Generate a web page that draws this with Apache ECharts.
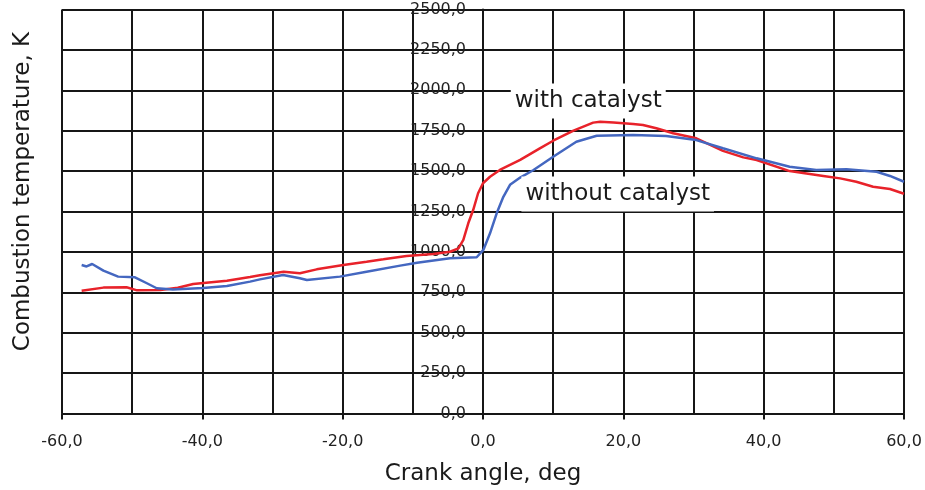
<!DOCTYPE html>
<html>
<head>
<meta charset="utf-8">
<title>Combustion temperature vs crank angle</title>
<script src="https://cdn.jsdelivr.net/npm/echarts@6/dist/echarts.min.js"></script>
<style>
  html, body { margin: 0; padding: 0; background: #fff; }
  #chart { width: 925px; height: 490px; }
</style>
</head>
<body>
<div id="chart"></div>
<script>
// Crank angle (deg) and combustion temperature (K), with catalyst
const withCatalystAngle = [-57.2, -54.1, -50.8, -49.3, -46.0, -43.5, -41.3, -36.5, -33.2, -31.8, -28.4, -26.1, -23.7, -19.9, -16.6, -14.2, -10.9, -7.1, -4.7, -3.5, -2.8, -2.1, -1.4, -0.7, 0.0, 1.0, 2.4, 5.3, 8.1, 10.0, 12.9, 15.7, 16.7, 18.6, 21.4, 22.8, 24.7, 27.1, 30.4, 34.2, 37.1, 39.0, 43.7, 48.5, 50.9, 53.2, 55.6, 58.0, 60.0];
const withCatalystTemp  = [760, 779, 781, 762, 764, 778, 801, 822, 845, 855, 877, 868, 892, 919, 939, 954, 975, 987, 1001, 1022, 1074, 1177, 1259, 1363, 1425, 1465, 1507, 1569, 1641, 1688, 1750, 1800, 1806, 1800, 1791, 1785, 1765, 1734, 1703, 1625, 1585, 1569, 1500, 1470, 1455, 1434, 1403, 1389, 1360];

// Crank angle (deg) and combustion temperature (K), without catalyst
const withoutCatalystAngle = [-57.2, -56.5, -55.7, -54.1, -52.0, -49.6, -47.9, -46.5, -44.2, -39.9, -36.5, -33.2, -31.8, -28.5, -26.1, -25.1, -20.4, -16.6, -11.8, -9.4, -4.7, -0.9, 0.05, 1.0, 1.95, 2.9, 3.85, 5.3, 7.2, 10.0, 13.3, 16.2, 21.4, 26.1, 30.4, 34.2, 39.0, 43.7, 47.5, 51.8, 56.1, 58.0, 60.0];
const withoutCatalystTemp  = [919, 910, 925, 884, 847, 843, 806, 775, 768, 776, 789, 816, 830, 857, 837, 826, 847, 877, 915, 933, 960, 967, 1012, 1115, 1239, 1341, 1415, 1460, 1507, 1589, 1682, 1719, 1723, 1717, 1692, 1641, 1579, 1527, 1507, 1511, 1496, 1470, 1434];

const seriesNames = ['with catalyst', 'without catalyst'];
const xTitle = 'Crank angle, deg';
const yTitle = 'Combustion temperature, K';

const zip = (xs, ys) => xs.map((x, i) => [x, ys[i]]);
const commaDecimal = v => v.toFixed(1).replace('.', ',');

const FONT = '"DejaVu Sans", Verdana, sans-serif';
const GRID_COLOR = '#161616';
const GRID_LEFT = 62;
const Y_AXIS_CROSS_ANGLE = 0; // temperature axis crosses the angle axis at 0 deg

function annotation(text, coord) {
  return {
    symbol: 'rect',
    symbolSize: 1,
    itemStyle: { color: 'rgba(0,0,0,0)' },
    data: [{ coord: coord, value: text }],
    label: {
      show: true,
      position: 'inside',
      formatter: text,
      color: '#1a1a1a',
      fontFamily: FONT,
      fontSize: 23,
      backgroundColor: '#ffffff',
      padding: [6, 4, 6, 4]
    }
  };
}

const chart = echarts.init(document.getElementById('chart'), null, { renderer: 'canvas' });

chart.setOption({
  animation: false,
  backgroundColor: '#ffffff',
  grid: {
    left: GRID_LEFT, right: 21, top: 9.5, bottom: 76.5,
    containLabel: false,
    outerBoundsMode: 'none'
  },
  xAxis: {
    type: 'value',
    min: -60,
    max: 60,
    interval: 20,
    name: xTitle,
    nameLocation: 'middle',
    nameGap: 49,
    nameTextStyle: { fontFamily: FONT, fontSize: 23, color: '#1a1a1a' },
    axisLine: { show: true, lineStyle: { color: GRID_COLOR, width: 2 } },
    axisTick: { show: true, length: 6, lineStyle: { color: GRID_COLOR, width: 2 } },
    axisLabel: {
      margin: 20,
      fontFamily: FONT,
      fontSize: 16,
      color: '#222',
      formatter: commaDecimal,
      showMinLabel: true,
      showMaxLabel: true
    },
    splitLine: { show: true, lineStyle: { color: GRID_COLOR, width: 2 } },
    minorTick: { show: false, splitNumber: 2 },
    minorSplitLine: { show: true, lineStyle: { color: GRID_COLOR, width: 2 } }
  },
  yAxis: [
    {
      type: 'value',
      min: 0,
      max: 2500,
      interval: 250,
      axisLine: { show: true, onZero: false, lineStyle: { color: GRID_COLOR, width: 2 } },
      axisTick: { show: false },
      axisLabel: {
        margin: 17,
        fontFamily: FONT,
        fontSize: 16,
        color: '#222',
        formatter: commaDecimal
      },
      splitLine: { show: true, lineStyle: { color: GRID_COLOR, width: 2 } }
    },
    {
      type: 'value',
      position: 'left',
      min: 0,
      max: 2500,
      name: yTitle,
      nameLocation: 'middle',
      nameGap: 27,
      nameTextStyle: { fontFamily: FONT, fontSize: 23, color: '#1a1a1a', padding: [0, 0, 0, 40] },
      axisLine: { show: false, onZero: false },
      axisTick: { show: false },
      axisLabel: { show: false },
      splitLine: { show: false }
    }
  ],
  series: [
    {
      name: seriesNames[0],
      type: 'line',
      data: zip(withCatalystAngle, withCatalystTemp),
      showSymbol: false,
      smooth: false,
      lineStyle: { color: '#e8222a', width: 2.5 },
      z: 3,
      markPoint: annotation(seriesNames[0], [15, 1934])
    },
    {
      name: seriesNames[1],
      type: 'line',
      data: zip(withoutCatalystAngle, withoutCatalystTemp),
      showSymbol: false,
      smooth: false,
      lineStyle: { color: '#4467c0', width: 2.5 },
      z: 4,
      markPoint: annotation(seriesNames[1], [19.2, 1358])
    }
  ]
});

// Move the temperature axis (line and labels) to where the angle scale reads 0 deg;
// a negative offset shifts a left-side axis towards the plot.
const crossX = chart.convertToPixel({ xAxisIndex: 0 }, Y_AXIS_CROSS_ANGLE);
chart.setOption({ yAxis: [{ offset: -(crossX - GRID_LEFT) }, {}] });
</script>
</body>
</html>
